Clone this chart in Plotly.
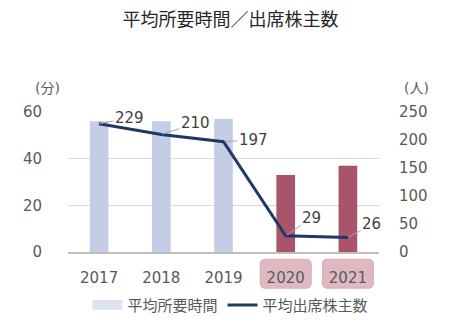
import plotly.graph_objects as go

years = ["2017", "2018", "2019", "2020", "2021"]
avg_minutes = [56, 56, 57, 33, 37]
attendees = [229, 210, 197, 29, 26]
bar_colors = ["#c3cee6", "#c3cee6", "#c3cee6", "#a9546a", "#a9546a"]
highlight_years = ["2020", "2021"]
label_offsets = [(30, -6), (34, -11), (30, -2), (26, -18), (24, -13)]

FONT = "DejaVu Sans, Noto Sans CJK JP, sans-serif"
TXT = "#595959"

L, R, T, B = 68, 82, 112, 80
W, H = 461, 334
pw, ph = W - L - R, H - T - B

fig = go.Figure()
# legend proxy for the bar series (wide light swatch)
fig.add_trace(go.Scatter(
    x=[None], y=[None], name="平均所要時間", mode="lines",
    line=dict(color="#dde3f1", width=10), yaxis="y",
))
fig.add_trace(go.Scatter(
    x=list(range(len(years))), y=attendees, name="平均出席株主数",
    mode="lines", line=dict(color="#1f3864", width=3), yaxis="y2",
))
fig.add_trace(go.Bar(
    x=list(range(len(years))), y=avg_minutes, name="平均所要時間",
    marker=dict(color=bar_colors, line=dict(width=0)), width=0.3,
    yaxis="y", showlegend=False,
))
fig.data = (fig.data[2], fig.data[0], fig.data[1])

annotations = []
for i, (v, (ax, ay)) in enumerate(zip(attendees, label_offsets)):
    annotations.append(dict(
        x=i, y=v, xref="x", yref="y2", text=str(v), showarrow=True,
        arrowhead=0, arrowwidth=1, arrowcolor="#a6a6a6", ax=ax, ay=ay,
        standoff=1, font=dict(family=FONT, size=15, color="#404040"),
    ))
for px, py, txt in [(47, 88, "(分)"), (416, 88, "(人)")]:
    annotations.append(dict(
        x=(px - L) / pw, y=(H - B - py) / ph, xref="paper", yref="paper",
        xanchor="center", yanchor="middle", text=txt, showarrow=False,
        font=dict(family=FONT, size=14, color=TXT)))

shapes = []
def rrect(w, h, r):
    x0, x1, y0, y1 = -w / 2, w / 2, -h / 2, h / 2
    return (f"M {x0+r},{y0} L {x1-r},{y0} Q {x1},{y0} {x1},{y0+r} "
            f"L {x1},{y1-r} Q {x1},{y1} {x1-r},{y1} L {x0+r},{y1} "
            f"Q {x0},{y1} {x0},{y1-r} L {x0},{y0+r} Q {x0},{y0} {x0+r},{y0} Z")
for yr in highlight_years:
    shapes.append(dict(
        type="path", xref="x", yref="paper", xsizemode="pixel", ysizemode="pixel",
        xanchor=years.index(yr), yanchor=-22 / ph, path=rrect(51, 29, 5),
        fillcolor="#dfb9c2", line=dict(color="#d9aab5", width=1), layer="below",
    ))

fig.update_layout(
    width=W, height=H, margin=dict(l=L, r=R, t=T, b=B),
    paper_bgcolor="white", plot_bgcolor="white",
    font=dict(family=FONT, size=15, color=TXT),
    title=dict(text="平均所要時間／出席株主数", x=0.5, xanchor="center",
               y=1 - 20 / H, yanchor="middle",
               font=dict(family=FONT, size=18, color="#262626")),
    xaxis=dict(tickvals=list(range(len(years))), ticktext=years,
               range=[-0.5, len(years) - 0.5], showgrid=False,
               ticks="outside", ticklen=11, tickcolor="rgba(0,0,0,0)",
               showline=True, linecolor="#bfbfbf", linewidth=1.5,
               tickfont=dict(size=15, color=TXT)),
    yaxis=dict(range=[0, 60], dtick=20, showgrid=True, gridcolor="#d9d9d9",
               zeroline=False, ticks="outside", ticklen=22,
               tickcolor="rgba(0,0,0,0)", tickfont=dict(size=15, color=TXT)),
    yaxis2=dict(range=[0, 250], dtick=50, overlaying="y", side="right",
                showgrid=False, zeroline=False, ticks="outside", ticklen=16,
                tickcolor="rgba(0,0,0,0)", tickfont=dict(size=15, color=TXT)),
    legend=dict(orientation="h", x=(230.5 - L) / pw, xanchor="center",
                y=(H - B - 308) / ph, yanchor="middle",
                font=dict(size=15, color=TXT), itemwidth=30),
    annotations=annotations, shapes=shapes, showlegend=True,
)

fig.write_html("out.html")
